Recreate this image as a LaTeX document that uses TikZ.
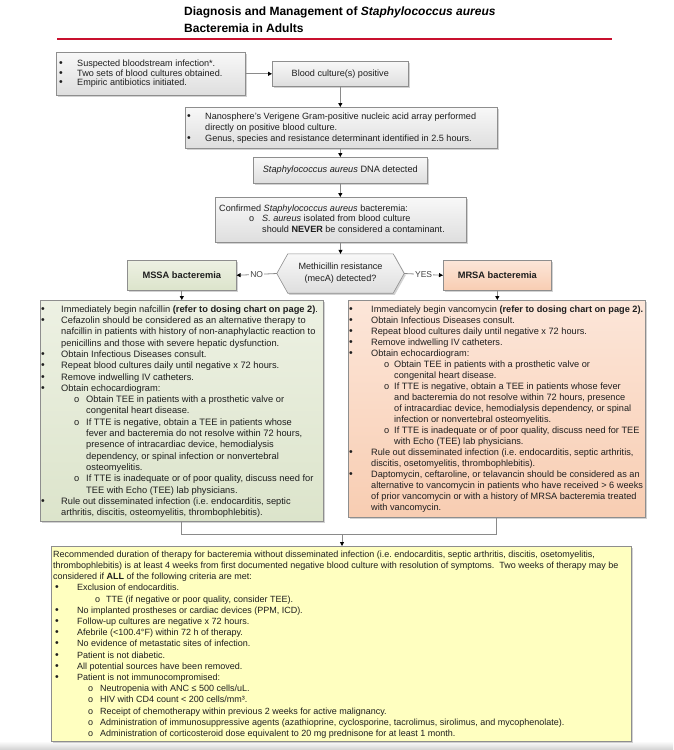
\documentclass[tikz,border=0pt]{standalone}
\usepackage{fontspec}
\setmainfont{Liberation Sans}
\usetikzlibrary{arrows.meta,shadows}
\definecolor{bord}{HTML}{8E8E8E}
\definecolor{gtop}{HTML}{F8F8F8}
\definecolor{gbot}{HTML}{DEDEDE}
\definecolor{greentop}{HTML}{EDF1E3}
\definecolor{greenbot}{HTML}{DCE4CB}
\definecolor{peachtop}{HTML}{FCE6D9}
\definecolor{peachbot}{HTML}{F8CDB2}
\definecolor{yel}{HTML}{FFFFC0}
\definecolor{redline}{HTML}{C8102E}
\definecolor{conncol}{HTML}{8A8A8A}
\definecolor{txtcol}{HTML}{1E1E1E}
\newlength\dP \newlength\dA \newlength\dB \newlength\dC
\newcommand\bdot{{\fontsize{10.5}{10}\selectfont\textbullet}}
\newcommand\bu{\hspace*{\dP}\makebox[\dA][l]{\bdot}}
\newcommand\cont{\hspace*{\dP}\hspace*{\dA}}
\newcommand\so{\hspace*{\dP}\hspace*{\dB}\makebox[\dC][l]{o}}
\newcommand\scont{\hspace*{\dP}\hspace*{\dB}\hspace*{\dC}}
\newcommand\fst{\rule{0pt}{10pt}}
\begin{document}
\frenchspacing
\begin{tikzpicture}[x=1pt,y=-1pt,
  every node/.style={text=txtcol},
  boxbase/.style={draw=bord, line width=0.6pt, inner sep=0pt, anchor=north west,
     drop shadow={shadow xshift=1.6pt, shadow yshift=-1.6pt, fill=black!35}},
  graybox/.style={boxbase, top color=gtop, bottom color=gbot},
  greenbox/.style={boxbase, top color=greentop, bottom color=greenbot},
  peachbox/.style={boxbase, top color=peachtop, bottom color=peachbot},
  yelbox/.style={boxbase, fill=yel},
  txt/.style={inner sep=0pt, anchor=north west, align=left,
     font=\fontsize{9.3}{11.3}\selectfont},
  conn/.style={draw=conncol, line width=0.8pt},
  arr/.style={-{Triangle[length=4pt,width=4pt,color=black]}},
  lbl/.style={fill=white, inner sep=1pt, font=\fontsize{8.5}{10}\selectfont, text=black!75}
]
\useasboundingbox (0,0) rectangle (673,750);
\shade[top color=white, bottom color=black!18] (0,741) rectangle (673,750);

% title
\node[inner sep=0pt, anchor=base west, font=\fontsize{12}{14}\selectfont\bfseries, text=black] (title1) at (184,15)
  {Diagnosis and Management of \textit{Staphylococcus aureus}};
\node[inner sep=0pt, anchor=base west, font=\fontsize{12}{14}\selectfont\bfseries, text=black] (title2) at (184,32)
  {Bacteremia in Adults};
\coordinate (rl) at (57,39);
\coordinate (rr) at (612,39);
\draw[redline, line width=1.8pt] (rl) -- (rr);

% boxes
\node[graybox, minimum width=189pt, minimum height=43pt] (b1) at (56,52) {};
\node[graybox, minimum width=136pt, minimum height=25pt, font=\fontsize{9.1}{11}\selectfont] (b2) at (272,61) {Blood culture(s) positive};
\node[graybox, minimum width=312pt, minimum height=41pt] (b3) at (185,107) {};
\node[graybox, minimum width=174pt, minimum height=26pt, font=\fontsize{9.2}{11}\selectfont] (b4) at (253,157) {\textit{Staphylococcus aureus} DNA detected};
\node[graybox, minimum width=251pt, minimum height=45pt] (b5) at (215,197) {};

% hexagon decision
\node[minimum width=127pt, minimum height=39pt, inner sep=0pt] (hex) at (340.5,273.5) {};
\shade[top color=gtop, bottom color=gbot, draw=bord, line width=0.6pt,
   drop shadow={shadow xshift=1.6pt, shadow yshift=-1.6pt, fill=black!35}]
  (hex.west) -- ([xshift=11pt]hex.north west) -- ([xshift=-11pt]hex.north east)
  -- (hex.east) -- ([xshift=-11pt]hex.south east) -- ([xshift=11pt]hex.south west) -- cycle;
\node[align=center, inner sep=0pt, font=\fontsize{9.1}{12}\selectfont] (hext) at (hex.center) {Methicillin resistance\\(mecA) detected?};

\node[greenbox, minimum width=109pt, minimum height=30pt, font=\fontsize{9.3}{11}\selectfont\bfseries] (mssa) at (127,260) {MSSA bacteremia};
\node[peachbox, minimum width=108pt, minimum height=30pt, font=\fontsize{9.3}{11}\selectfont\bfseries] (mrsa) at (443,260) {MRSA bacteremia};

\node[greenbox, minimum width=283pt, minimum height=221pt] (mssaD) at (40,300) {};
\node[peachbox, minimum width=297pt, minimum height=217pt] (mrsaD) at (348,300) {};
\node[yelbox, minimum width=580pt, minimum height=195pt] (bot) at (51,546) {};

% texts
\global\dP=0pt \global\dA=18pt
\node[txt, font=\fontsize{9.1}{9.8}\selectfont] (t1) at (59,56) {%
\fst\bu Suspected bloodstream infection*.\\
\bu Two sets of blood cultures obtained.\\
\bu Empiric antibiotics initiated.};

\node[txt, font=\fontsize{9.1}{11}\selectfont] (t3) at (187,109) {%
\fst\bu Nanosphere's Verigene Gram-positive nucleic acid array performed\\
\cont directly on positive blood culture.\\
\bu Genus, species and resistance determinant identified in 2.5 hours.};

\global\dP=0pt \global\dA=30pt \global\dB=30pt \global\dC=13pt
\node[txt, font=\fontsize{9.1}{10.5}\selectfont] (t5) at (219,201) {%
\fst Confirmed \textit{Staphylococcus aureus} bacteremia:\\
\so\textit{S. aureus} isolated from blood culture\\
\scont should \textbf{NEVER} be considered a contaminant.};

\global\dP=0pt \global\dA=20pt \global\dB=33pt \global\dC=12pt
\node[txt] (t6) at (41,302) {%
\fst\bu Immediately begin nafcillin \textbf{(refer to dosing chart on page 2)}.\\
\bu Cefazolin should be considered as an alternative therapy to\\
\cont nafcillin in patients with history of non-anaphylactic reaction to\\
\cont penicillins and those with severe hepatic dysfunction.\\
\bu Obtain Infectious Diseases consult.\\
\bu Repeat blood cultures daily until negative x 72 hours.\\
\bu Remove indwelling IV catheters.\\
\bu Obtain echocardiogram:\\
\so Obtain TEE in patients with a prosthetic valve or\\
\scont congenital heart disease.\\
\so If TTE is negative, obtain a TEE in patients whose\\
\scont fever and bacteremia do not resolve within 72 hours,\\
\scont presence of intracardiac device, hemodialysis\\
\scont dependency, or spinal infection or nonvertebral\\
\scont osteomyelitis.\\
\so If TTE is inadequate or of poor quality, discuss need for\\
\scont TEE with Echo (TEE) lab physicians.\\
\bu Rule out disseminated infection (i.e. endocarditis, septic\\
\cont arthritis, discitis, osteomyelitis, thrombophlebitis).};

\global\dP=0pt \global\dA=22pt \global\dB=35pt \global\dC=10pt
\node[txt, font=\fontsize{9.2}{11}\selectfont] (t7) at (349,302) {%
\fst\bu Immediately begin vancomycin \textbf{(refer to dosing chart on page 2).}\\
\bu Obtain Infectious Diseases consult.\\
\bu Repeat blood cultures daily until negative x 72 hours.\\
\bu Remove indwelling IV catheters.\\
\bu Obtain echocardiogram:\\
\so Obtain TEE in patients with a prosthetic valve or\\
\scont congenital heart disease.\\
\so If TTE is negative, obtain a TEE in patients whose fever\\
\scont and bacteremia do not resolve within 72 hours, presence\\
\scont of intracardiac device, hemodialysis dependency, or spinal\\
\scont infection or nonvertebral osteomyelitis.\\
\so If TTE is inadequate or of poor quality, discuss need for TEE\\
\scont with Echo (TEE) lab physicians.\\
\bu Rule out disseminated infection (i.e. endocarditis, septic arthritis,\\
\cont discitis, osetomyelitis, thrombophlebitis).\\
\bu Daptomycin, ceftaroline, or telavancin should be considered as an\\
\cont alternative to vancomycin in patients who have received > 6 weeks\\
\cont of prior vancomycin or with a history of MRSA bacteremia treated\\
\cont with vancomycin.};

\global\dP=2pt \global\dA=22pt \global\dB=33pt \global\dC=12pt
\node[txt, font=\fontsize{9.0}{11.2}\selectfont] (t8) at (53,547) {%
\fst Recommended duration of therapy for bacteremia without disseminated infection (i.e. endocarditis, septic arthritis, discitis, osetomyelitis,\\
thrombophlebitis) is at least 4 weeks from first documented negative blood culture with resolution of symptoms.\ \ Two weeks of therapy may be\\
considered if \textbf{ALL} of the following criteria are met:\\
\bu Exclusion of endocarditis.\\
\hspace*{42pt}\makebox[11pt][l]{o}TTE (if negative or poor quality, consider TEE).\\
\bu No implanted prostheses or cardiac devices (PPM, ICD).\\
\bu Follow-up cultures are negative x 72 hours.\\
\bu Afebrile (<100.4°F) within 72 h of therapy.\\
\bu No evidence of metastatic sites of infection.\\
\bu Patient is not diabetic.\\
\bu All potential sources have been removed.\\
\bu Patient is not immunocompromised:\\
\so Neutropenia with ANC ≤ 500 cells/uL.\\
\so HIV with CD4 count < 200 cells/mm³.\\
\so Receipt of chemotherapy within previous 2 weeks for active malignancy.\\
\so Administration of immunosuppressive agents (azathioprine, cyclosporine, tacrolimus, sirolimus, and mycophenolate).\\
\so Administration of corticosteroid dose equivalent to 20 mg prednisone for at least 1 month.};

% connectors
\draw[conn, arr] (b1.east) -- (b2.west);
\draw[conn, arr] (b2.south) -- (b2.south |- b3.north);
\draw[conn, arr] (b3.south -| b2.south) -- (b2.south |- b4.north);
\draw[conn, arr] (b4.south -| b2.south) -- (b2.south |- b5.north);
\draw[conn, arr] (b5.south -| hex.north) -- (hex.north);
\draw[conn, arr] (hex.west) -- node[lbl] {NO} (mssa.east);
\draw[conn, arr] (hex.east) -- node[lbl] {YES} (mrsa.west);
\draw[conn, arr] (mssa.south) -- (mssa.south |- mssaD.north);
\draw[conn, arr] (mrsa.south) -- (mrsa.south |- mrsaD.north);
\coordinate (j) at (342,534);
\draw[conn] (mssaD.south) -- (mssaD.south |- j) -- (mrsaD.south |- j) -- (mrsaD.south);
\draw[conn, arr] (j) -- (j |- bot.north);
\end{tikzpicture}
\end{document}
